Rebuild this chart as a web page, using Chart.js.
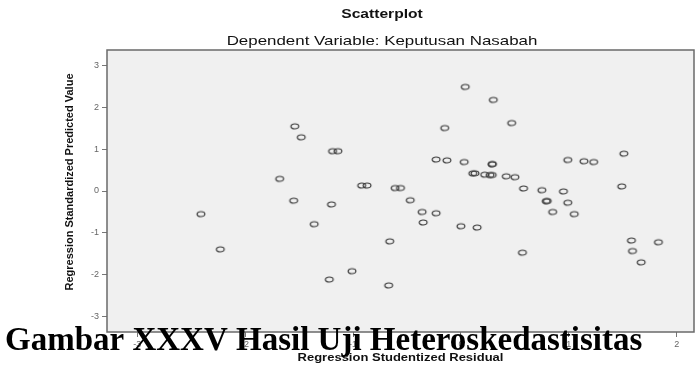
<!DOCTYPE html>
<html>
<head>
<meta charset="utf-8">
<script src="https://cdn.jsdelivr.net/npm/chart.js@4"></script>
<style>
  html, body { margin: 0; padding: 0; background: #fff; }
  #wrap { width: 700px; height: 365px; }
</style>
</head>
<body>
<div id="wrap"><canvas id="scatter" width="700" height="365"></canvas></div>
<script>
// Regression residuals (x) against standardized predicted values (y)
const residuals = [-2.41, -2.23, -1.68, -1.55, -1.54, -1.48, -1.36, -1.22, -1.20, -1.19,
  -1.14, -1.01, -0.92, -0.87, -0.66, -0.67, -0.61, -0.56, -0.47, -0.36,
  -0.35, -0.23, -0.23, -0.15, -0.13, 0.00, 0.04, 0.03, 0.11, 0.13,
  0.15, 0.22, 0.27, 0.29, 0.29, 0.29, 0.30, 0.42, 0.47, 0.50,
  0.58, 0.57, 0.75, 0.79, 0.80, 0.85, 0.95, 0.99, 0.99, 1.05,
  1.14, 1.23, 1.51, 1.49, 1.58, 1.59, 1.67, 1.83];
const predicted = [-0.55, -1.39, 0.29, -0.23, 1.54, 1.28, -0.79, -2.11, -0.32, 0.95,
  0.95, -1.91, 0.13, 0.13, -1.20, -2.25, 0.07, 0.07, -0.22, -0.50,
  -0.75, -0.53, 0.75, 1.50, 0.73, -0.84, 2.48, 0.69, 0.42, 0.42,
  -0.87, 0.39, 0.38, 0.38, 0.64, 0.64, 2.17, 0.35, 1.62, 0.33,
  0.06, -1.47, 0.02, -0.24, -0.24, -0.50, -0.01, 0.74, -0.28, -0.55,
  0.71, 0.69, 0.89, 0.11, -1.18, -1.43, -1.70, -1.22];
const xTicks = [-3, -2, -1, 0, 1, 2];
const yTicks = [-3, -2, -1, 0, 1, 2, 3];

const mainTitle = 'Scatterplot';
const subTitle = 'Dependent Variable: Keputusan Nasabah';
const xTitle = 'Regression Studentized Residual';
const yTitle = 'Regression Standardized Predicted Value';
const caption = 'Gambar XXXV Hasil Uji Heteroskedastisitas';

// hollow ellipse marker
const ring = document.createElement('canvas');
ring.width = 12;
ring.height = 9;
const rc = ring.getContext('2d');
rc.strokeStyle = '#3a3a3a';
rc.lineWidth = 1.2;
rc.beginPath();
rc.ellipse(6, 4.5, 3.9, 2.5, 0, 0, Math.PI * 2);
rc.stroke();

function wideText(ctx, text, cx, cy, font, sx) {
  ctx.save();
  ctx.translate(cx, cy);
  ctx.scale(sx, 1);
  ctx.font = font;
  ctx.fillStyle = '#111';
  ctx.textAlign = 'center';
  ctx.textBaseline = 'middle';
  ctx.fillText(text, 0, 0);
  ctx.restore();
}

const frame = {
  id: 'frame',
  beforeDraw(chart) {
    const { ctx, chartArea: a } = chart;
    ctx.save();
    ctx.fillStyle = '#fff';
    ctx.fillRect(0, 0, chart.width, chart.height);
    ctx.fillStyle = '#f0f0f0';
    ctx.fillRect(a.left, a.top, a.right - a.left, a.bottom - a.top);
    ctx.restore();
  },
  beforeDatasetsDraw(chart) {
    const { ctx, chartArea: a } = chart;
    ctx.save();
    ctx.strokeStyle = '#6a6a6a';
    ctx.lineWidth = 1.5;
    ctx.strokeRect(a.left, a.top, a.right - a.left, a.bottom - a.top);
    ctx.restore();
  },
  afterDraw(chart) {
    const { ctx, chartArea: a } = chart;
    const sans = '"Liberation Sans", Arial, sans-serif';
    wideText(ctx, mainTitle, 382, 15, 'bold 12px ' + sans, 1.3);
    wideText(ctx, subTitle, 382, 41, '13px ' + sans, 1.3);
    wideText(ctx, xTitle, (a.left + a.right) / 2, 358, 'bold 10px ' + sans, 1.3);

    ctx.save();
    ctx.translate(70, 182);
    ctx.rotate(-Math.PI / 2);
    ctx.font = 'bold 11px ' + sans;
    ctx.fillStyle = '#111';
    ctx.textAlign = 'center';
    ctx.textBaseline = 'middle';
    ctx.fillText(yTitle, 0, 0);
    ctx.restore();

    ctx.save();
    ctx.font = 'bold 33px "Liberation Serif", "Times New Roman", serif';
    ctx.fillStyle = '#000';
    ctx.textBaseline = 'alphabetic';
    ctx.fillText(caption, 5, 350);
    ctx.restore();
  }
};

new Chart(document.getElementById('scatter'), {
  type: 'scatter',
  data: {
    datasets: [{
      data: residuals.map((x, i) => ({ x: x, y: predicted[i] })),
      pointStyle: ring,
      pointRadius: 5,
      pointHoverRadius: 5
    }]
  },
  options: {
    responsive: false,
    animation: false,
    layout: { padding: { left: 62, top: 50, right: 3, bottom: 0 } },
    plugins: {
      legend: { display: false },
      tooltip: { enabled: false }
    },
    scales: {
      x: {
        type: 'linear',
        min: -3.28,
        max: 2.16,
        afterBuildTicks: axis => { axis.ticks = xTicks.map(v => ({ value: v })); },
        afterFit: axis => { axis.height = 33; },
        border: { display: false },
        grid: { drawOnChartArea: false, tickLength: 5, tickColor: '#777' },
        ticks: { padding: 2, color: '#666', font: { size: 9, family: 'Liberation Sans' } }
      },
      y: {
        type: 'linear',
        min: -3.36,
        max: 3.36,
        afterBuildTicks: axis => { axis.ticks = yTicks.map(v => ({ value: v })); },
        afterFit: axis => { axis.width = 45; },
        border: { display: false },
        grid: { drawOnChartArea: false, tickLength: 5, tickColor: '#777' },
        ticks: { padding: 3, color: '#666', font: { size: 9, family: 'Liberation Sans' } }
      }
    }
  },
  plugins: [frame]
});
</script>
</body>
</html>
